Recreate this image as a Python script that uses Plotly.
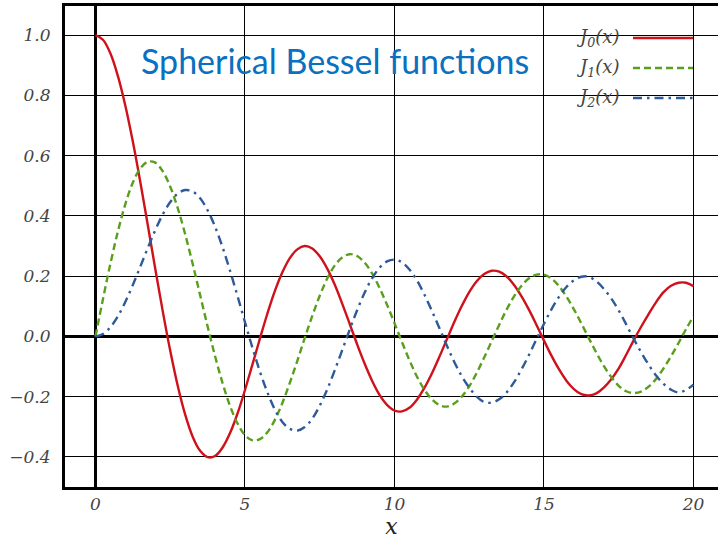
import plotly.graph_objects as go

# Sample positions (step 0.25) and curve values
x_vals = [i * 0.25 for i in range(81)]

j0_vals = [1.000, 0.985, 0.939, 0.864, 0.765, 0.646, 0.512, 0.369, 0.224, 0.083,
           -0.048, -0.164, -0.260, -0.333, -0.380, -0.401, -0.397, -0.369, -0.321, -0.256,
           -0.178, -0.093, -0.007, 0.076, 0.151, 0.213, 0.260, 0.289, 0.300, 0.292,
           0.266, 0.225, 0.172, 0.109, 0.042, -0.026, -0.090, -0.147, -0.194, -0.227,
           -0.246, -0.249, -0.237, -0.210, -0.171, -0.123, -0.068, -0.010, 0.048, 0.101,
           0.147, 0.183, 0.207, 0.218, 0.215, 0.199, 0.171, 0.133, 0.088, 0.038,
           -0.014, -0.064, -0.109, -0.147, -0.175, -0.192, -0.196, -0.189, -0.170, -0.142,
           -0.106, -0.061, -0.013, 0.032, 0.074, 0.114, 0.147, 0.168, 0.178, 0.178,
           0.167]

j1_vals = [0.000, 0.124, 0.242, 0.349, 0.440, 0.511, 0.558, 0.580, 0.577, 0.548,
           0.497, 0.426, 0.339, 0.241, 0.137, 0.033, -0.066, -0.155, -0.231, -0.289,
           -0.328, -0.345, -0.341, -0.318, -0.277, -0.221, -0.154, -0.081, -0.005, 0.068,
           0.135, 0.192, 0.235, 0.262, 0.273, 0.267, 0.245, 0.209, 0.161, 0.105,
           0.044, -0.019, -0.079, -0.133, -0.177, -0.209, -0.228, -0.233, -0.223, -0.200,
           -0.166, -0.121, -0.070, -0.016, 0.038, 0.089, 0.133, 0.168, 0.193, 0.205,
           0.205, 0.192, 0.167, 0.132, 0.090, 0.043, -0.006, -0.054, -0.098, -0.135,
           -0.164, -0.182, -0.188, -0.183, -0.167, -0.141, -0.106, -0.066, -0.022, 0.024,
           0.067]

j2_vals = [0.000, 0.008, 0.031, 0.067, 0.115, 0.171, 0.232, 0.294, 0.353, 0.405,
           0.446, 0.474, 0.486, 0.481, 0.459, 0.419, 0.364, 0.296, 0.218, 0.134,
           0.047, -0.038, -0.117, -0.186, -0.243, -0.284, -0.307, -0.313, -0.301, -0.273,
           -0.230, -0.176, -0.113, -0.046, 0.022, 0.087, 0.145, 0.193, 0.228, 0.249,
           0.255, 0.246, 0.222, 0.186, 0.139, 0.085, 0.028, -0.030, -0.085, -0.132,
           -0.170, -0.200, -0.218, -0.220, -0.209, -0.186, -0.152, -0.109, -0.061, -0.009,
           0.042, 0.090, 0.131, 0.164, 0.186, 0.198, 0.198, 0.183, 0.158, 0.126,
           0.086, 0.040, -0.008, -0.053, -0.094, -0.130, -0.158, -0.177, -0.186, -0.178,
           -0.160]

series_names = ["J0(x)", "J1(x)", "J2(x)"]
legend_labels = ["<i>J</i><sub><i>0</i></sub><i>(x)</i>",
                 "<i>J</i><sub><i>1</i></sub><i>(x)</i>",
                 "<i>J</i><sub><i>2</i></sub><i>(x)</i>"]
x_ticks = [0, 5, 10, 15, 20]
y_ticks = [-0.4, -0.2, 0.0, 0.2, 0.4, 0.6, 0.8, 1.0]

colors = ["#cf111b", "#5a9f1c", "#2d5a98"]
dashes = ["solid", "7px,4px", "9px,5px,2.5px,5px"]

fig = go.Figure()
for name, ys, c, d in zip(series_names, [j0_vals, j1_vals, j2_vals], colors, dashes):
    fig.add_trace(go.Scatter(
        x=x_vals, y=ys, mode="lines", name=name,
        line=dict(color=c, width=2.4, dash=d, shape="spline", smoothing=1.0),
        showlegend=False,
    ))

tick_font = dict(family="DejaVu Serif", size=17, color="#444444", style="italic")

fig.update_layout(
    width=718, height=540,
    margin=dict(l=65, r=0, t=6, b=53),
    paper_bgcolor="white", plot_bgcolor="white",
    xaxis=dict(
        range=[-1.02, 20.82], tickvals=x_ticks, ticktext=[str(v) for v in x_ticks],
        showgrid=True, gridcolor="black", gridwidth=1,
        zeroline=True, zerolinecolor="black", zerolinewidth=2.5,
        showline=True, linecolor="black", linewidth=3, mirror=True,
        ticks="", tickfont=tick_font, ticklabelstandoff=0,
        title=dict(text="<i>x</i>", font=dict(family="DejaVu Serif", size=22, color="#222222"),
                   standoff=0),
    ),
    yaxis=dict(
        range=[-0.5, 1.097], tickvals=y_ticks,
        ticktext=[f"{v:.1f}".replace("-", "\u2212") for v in y_ticks],
        showgrid=True, gridcolor="black", gridwidth=1,
        zeroline=True, zerolinecolor="black", zerolinewidth=2.5,
        showline=True, linecolor="black", linewidth=3, mirror=False,
        ticks="", tickfont=tick_font, ticklabelstandoff=8,
    ),
)

# White key panel in the upper-right corner
fig.add_shape(type="rect", xref="paper", yref="paper",
              x0=(560 - 65) / 653, x1=1.0, y0=(487 - 127) / 481, y1=(487 - 8) / 481,
              fillcolor="white", line=dict(width=0), layer="between")

# Key entries: label on the left, line sample on the right
row_px = [38, 68, 98]
for lab, c, d, py in zip(legend_labels, colors, dashes, row_px):
    yp = (487 - py) / 481
    fig.add_annotation(xref="paper", yref="paper", x=(574 - 65) / 653, y=yp,
                       xanchor="left", yanchor="middle", text=lab, showarrow=False,
                       font=dict(family="DejaVu Serif", size=18, color="#444444"))
    fig.add_shape(type="line", xref="paper", yref="paper",
                  x0=(633 - 65) / 653, x1=(693 - 65) / 653, y0=yp, y1=yp,
                  line=dict(color=c, width=2.4, dash=d), layer="above")

# Heading inside the plot area
fig.add_annotation(xref="paper", yref="paper", x=(139 - 65) / 653, y=(487 - 60) / 481,
                   xanchor="left", yanchor="middle", text="Spherical Bessel functions",
                   showarrow=False, font=dict(family="Lato", size=34, color="#0a70c0"))

fig.write_html("out.html")
